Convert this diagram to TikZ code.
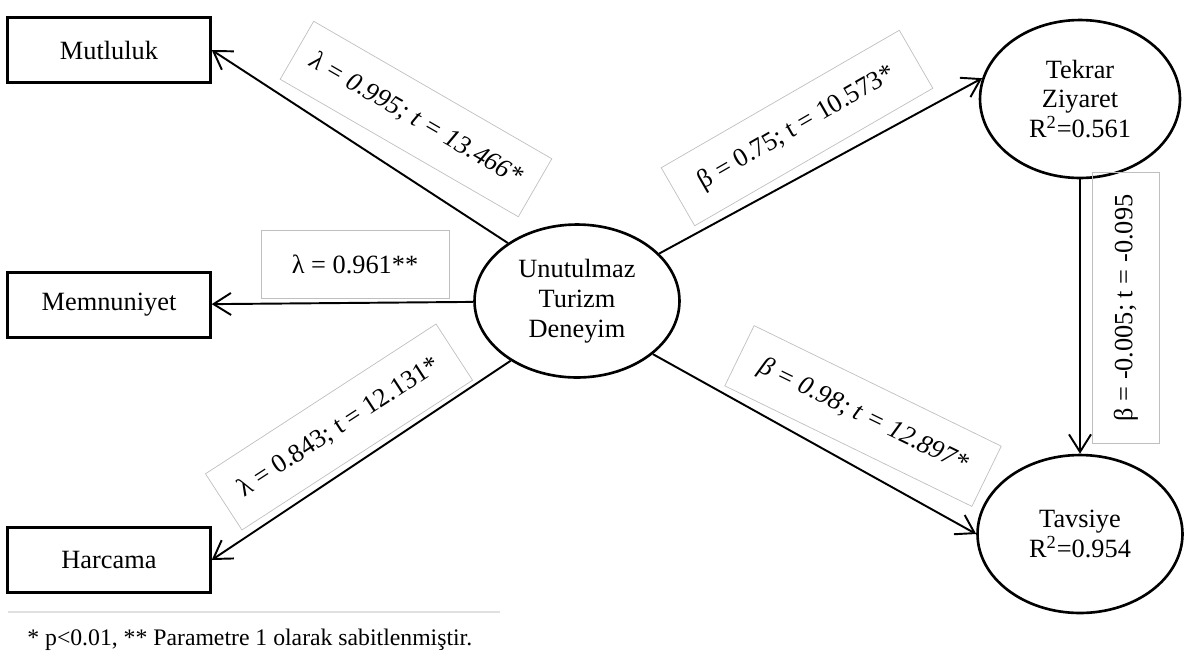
\documentclass[tikz,border=0pt]{standalone}
\usepackage{fontspec}
\setmainfont{Liberation Serif}
\usetikzlibrary{arrows.meta,shapes.geometric,positioning}
\newcommand{\yazi}{\fontsize{15}{17}\selectfont}
\newcommand{\dipyazi}{\fontsize{13.5}{16}\selectfont}
\tikzset{
    >={Straight Barb[length=3.5mm,width=4.4mm]},
    kutu/.style={
           rectangle,
           draw=black, line width=1.4pt,
           minimum width=4.06cm,
           minimum height=1.3cm,
           inner sep=0pt,
           font=\yazi},
    elips/.style={
           ellipse,
           draw=black, line width=1.5pt,
           inner sep=0pt,
           align=center,
           font=\yazi},
    etiket/.style={
           draw=black!25, line width=0.4pt,
           minimum width=5.5cm,
           minimum height=1.34cm,
           inner sep=0pt,
           font=\yazi},
    ok/.style={
           ->,
           line width=1.1pt}
}

\begin{document}
\begin{tikzpicture}[x=0.02cm, y=-0.02cm]
        \useasboundingbox (0,0) rectangle (1186,664);
        \node[kutu] (mutluluk) at (109,50) {Mutluluk};
        \node[kutu] (memnuniyet) at (109,305) {Memnuniyet};
        \node[kutu] (harcama) at (109,560) {Harcama};
        \node[elips, minimum width=4.1cm, minimum height=3.06cm] (utd) at (577,301) {Unutulmaz\\Turizm\\Deneyim};
        \node[elips, minimum width=4cm, minimum height=3.16cm] (tekrar) at (1080,99) {Tekrar\\Ziyaret\\R\textsuperscript{2}=0.561};
        \node[elips, minimum width=4.1cm, minimum height=3.16cm] (tavsiye) at (1080,534) {Tavsiye\\R\textsuperscript{2}=0.954};

        \node[etiket, rotate=-30, font=\yazi\itshape] (e1) at (416,119) {λ = 0.995; t = 13.466*};
        \node[etiket, minimum width=3.76cm, minimum height=1.36cm] (e2) at (355,264) {λ = 0.961**};
        \node[etiket, rotate=33] (e3) at (339,427) {λ = 0.843; t = 12.131*};
        \node[etiket, rotate=30] (e4) at (797,128) {β = 0.75; t = 10.573*};
        \node[etiket, rotate=-26, font=\yazi\itshape] (e5) at (863,416) {β = 0.98; t = 12.897*};
        \node[etiket, rotate=90, minimum width=5.42cm] (e6) at (1126,308) {β = -0.005; t = -0.095};

        \draw[ok] (utd.140) -- (mutluluk.east);
        \draw[ok] (utd) -- (memnuniyet);
        \draw[ok] (utd.222) -- (harcama.east);
        \draw[ok] (utd.30) -- (tekrar.168);
        \draw[ok] (utd.-35) -- (tavsiye.west);
        \draw[ok] (tekrar.south) -- (tavsiye.north);

        % dipnot
        \draw[black!12, line width=0.6pt] (8,612) -- (500,612);
        \node[anchor=west, inner sep=0pt, font=\dipyazi] (dipnot) at (27,640) {* p<0.01, ** Parametre 1 olarak sabitlenmiştir.};
    \end{tikzpicture}
\end{document}
